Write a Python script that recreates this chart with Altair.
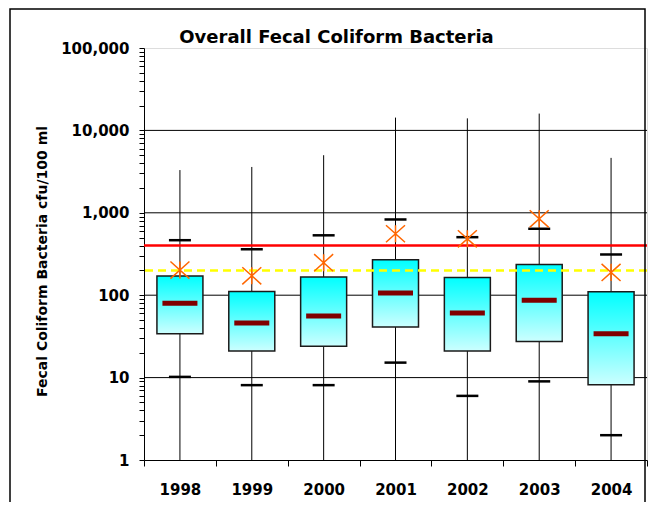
import altair as alt
import pandas as pd

years = ["1998", "1999", "2000", "2001", "2002", "2003", "2004"]
min_vals = [1, 1, 1, 1, 1, 1, 1]
p10_vals = [10.2, 8.1, 8.1, 15.2, 6.0, 9.0, 2.0]
q1_vals = [34, 21, 24, 41, 21, 27.5, 8.2]
median_vals = [80, 46, 56, 106, 61, 87, 34]
q3_vals = [171, 111, 166, 269, 164, 236, 110]
p90_vals = [465, 361, 533, 830, 506, 640, 312]
max_vals = [3300, 3600, 5000, 14300, 14000, 16000, 4640]
mean_vals = [202, 172, 248, 557, 484, 846, 189]

standard_primary = [400]
standard_secondary = [200]
grid_vals = [10, 100, 1000, 10000]
major_ticks = [1, 10, 100, 1000, 10000, 100000]
tick_vals = [d * k for d in major_ticks[:-1] for k in range(1, 10)] + [100000]

df = pd.DataFrame({
    "year": years, "min": min_vals, "p10": p10_vals, "q1": q1_vals,
    "median": median_vals, "q3": q3_vals, "p90": p90_vals,
    "max": max_vals, "mean": mean_vals,
})

FONT = "DejaVu Sans"
W, H = 503, 412

xenc = alt.X("year:N", sort=years,
             scale=alt.Scale(paddingInner=0, paddingOuter=0),
             axis=alt.Axis(title=None, labelAngle=0, tickBand="extent",
                           tickSize=6, tickColor="black", domainColor="black",
                           labelFont=FONT, labelFontSize=15, labelFontWeight="bold",
                           labelColor="black", labelPadding=16))

yscale = alt.Scale(type="log", domain=[1, 100000], nice=False)
yaxis = alt.Axis(title="Fecal Coliform Bacteria cfu/100 ml", values=tick_vals,
                 labelExpr="indexof([1,10,100,1000,10000,100000], datum.value) >= 0 ? format(datum.value, ',') : ''",
                 grid=False, tickSize=5, tickColor="black", domainColor="black",
                 labelFont=FONT, labelFontSize=15, labelFontWeight="bold",
                 labelColor="black", labelPadding=10,
                 titleFont=FONT, titleFontSize=14, titleFontWeight="bold",
                 titleColor="black", titleX=-102, titleY=213, titleAngle=-90,
                 titleAlign="center", titleBaseline="middle")

base = alt.Chart(df)

grid = alt.Chart(pd.DataFrame({"v": grid_vals})).mark_rule(
    color="black", strokeWidth=1).encode(
    y=alt.Y("v:Q", scale=yscale, axis=yaxis))

whisker = base.mark_rule(color="black", strokeWidth=1).encode(
    x=xenc, y=alt.Y("min:Q", scale=yscale), y2="max:Q")

box = base.mark_bar(
    size=46,
    fill=alt.Gradient(gradient="linear",
                      stops=[alt.GradientStop(color="#00FFFF", offset=0),
                             alt.GradientStop(color="#CCFFFF", offset=1)],
                      x1=0, x2=0, y1=0, y2=1),
    stroke="#1a1a1a", strokeWidth=1.5).encode(
    x=xenc, y=alt.Y("q1:Q", scale=yscale), y2="q3:Q")

median = base.mark_tick(orient="horizontal", size=35, thickness=5,
                        color="#800000", opacity=1).encode(
    x=xenc, y=alt.Y("median:Q", scale=yscale))

cap_lo = base.mark_tick(orient="horizontal", size=22, thickness=2.5,
                        color="black", opacity=1).encode(
    x=xenc, y=alt.Y("p10:Q", scale=yscale))
cap_hi = base.mark_tick(orient="horizontal", size=22, thickness=2.5,
                        color="black", opacity=1).encode(
    x=xenc, y=alt.Y("p90:Q", scale=yscale))

red_line = alt.Chart(pd.DataFrame({"v": standard_primary})).mark_rule(
    color="#FF0000", strokeWidth=2.5).encode(y=alt.Y("v:Q", scale=yscale))
yellow_line = alt.Chart(pd.DataFrame({"v": standard_secondary})).mark_rule(
    color="#FFFF00", strokeWidth=2.5, strokeDash=[8, 5]).encode(
    y=alt.Y("v:Q", scale=yscale))

star = base.mark_point(
    shape="M-1,-0.9L1,0.9M-1,0.9L1,-0.9M0,-0.9L0,0.9",
    size=361, filled=False, color="#FF6600", strokeWidth=1.5, opacity=1).encode(
    x=xenc, y=alt.Y("mean:Q", scale=yscale))

frame = alt.Chart(pd.DataFrame({"a": [0]})).mark_rect(
    fill=None, stroke="black", strokeWidth=1.5, clip=False).encode(
    x=alt.value(-134), x2=alt.value(501), y=alt.value(-39), y2=alt.value(470))

chart = alt.layer(grid, whisker, box, median, cap_lo, cap_hi,
                  red_line, yellow_line, star, frame).properties(
    width=W, height=H,
    title=alt.TitleParams("Overall Fecal Coliform Bacteria", anchor="middle",
                          dx=-59, offset=-53, baseline="alphabetic",
                          font=FONT, fontSize=18, fontWeight="bold", color="black"),
    autosize=alt.AutoSizeParams(type="none"),
    padding={"left": 136, "top": 40, "right": 7, "bottom": 42},
).configure_view(fill="#C0C0C0", stroke="#808080", strokeWidth=1.5
).configure(background="white")

chart.save("out.html", embed_options={"renderer": "svg", "actions": False})
